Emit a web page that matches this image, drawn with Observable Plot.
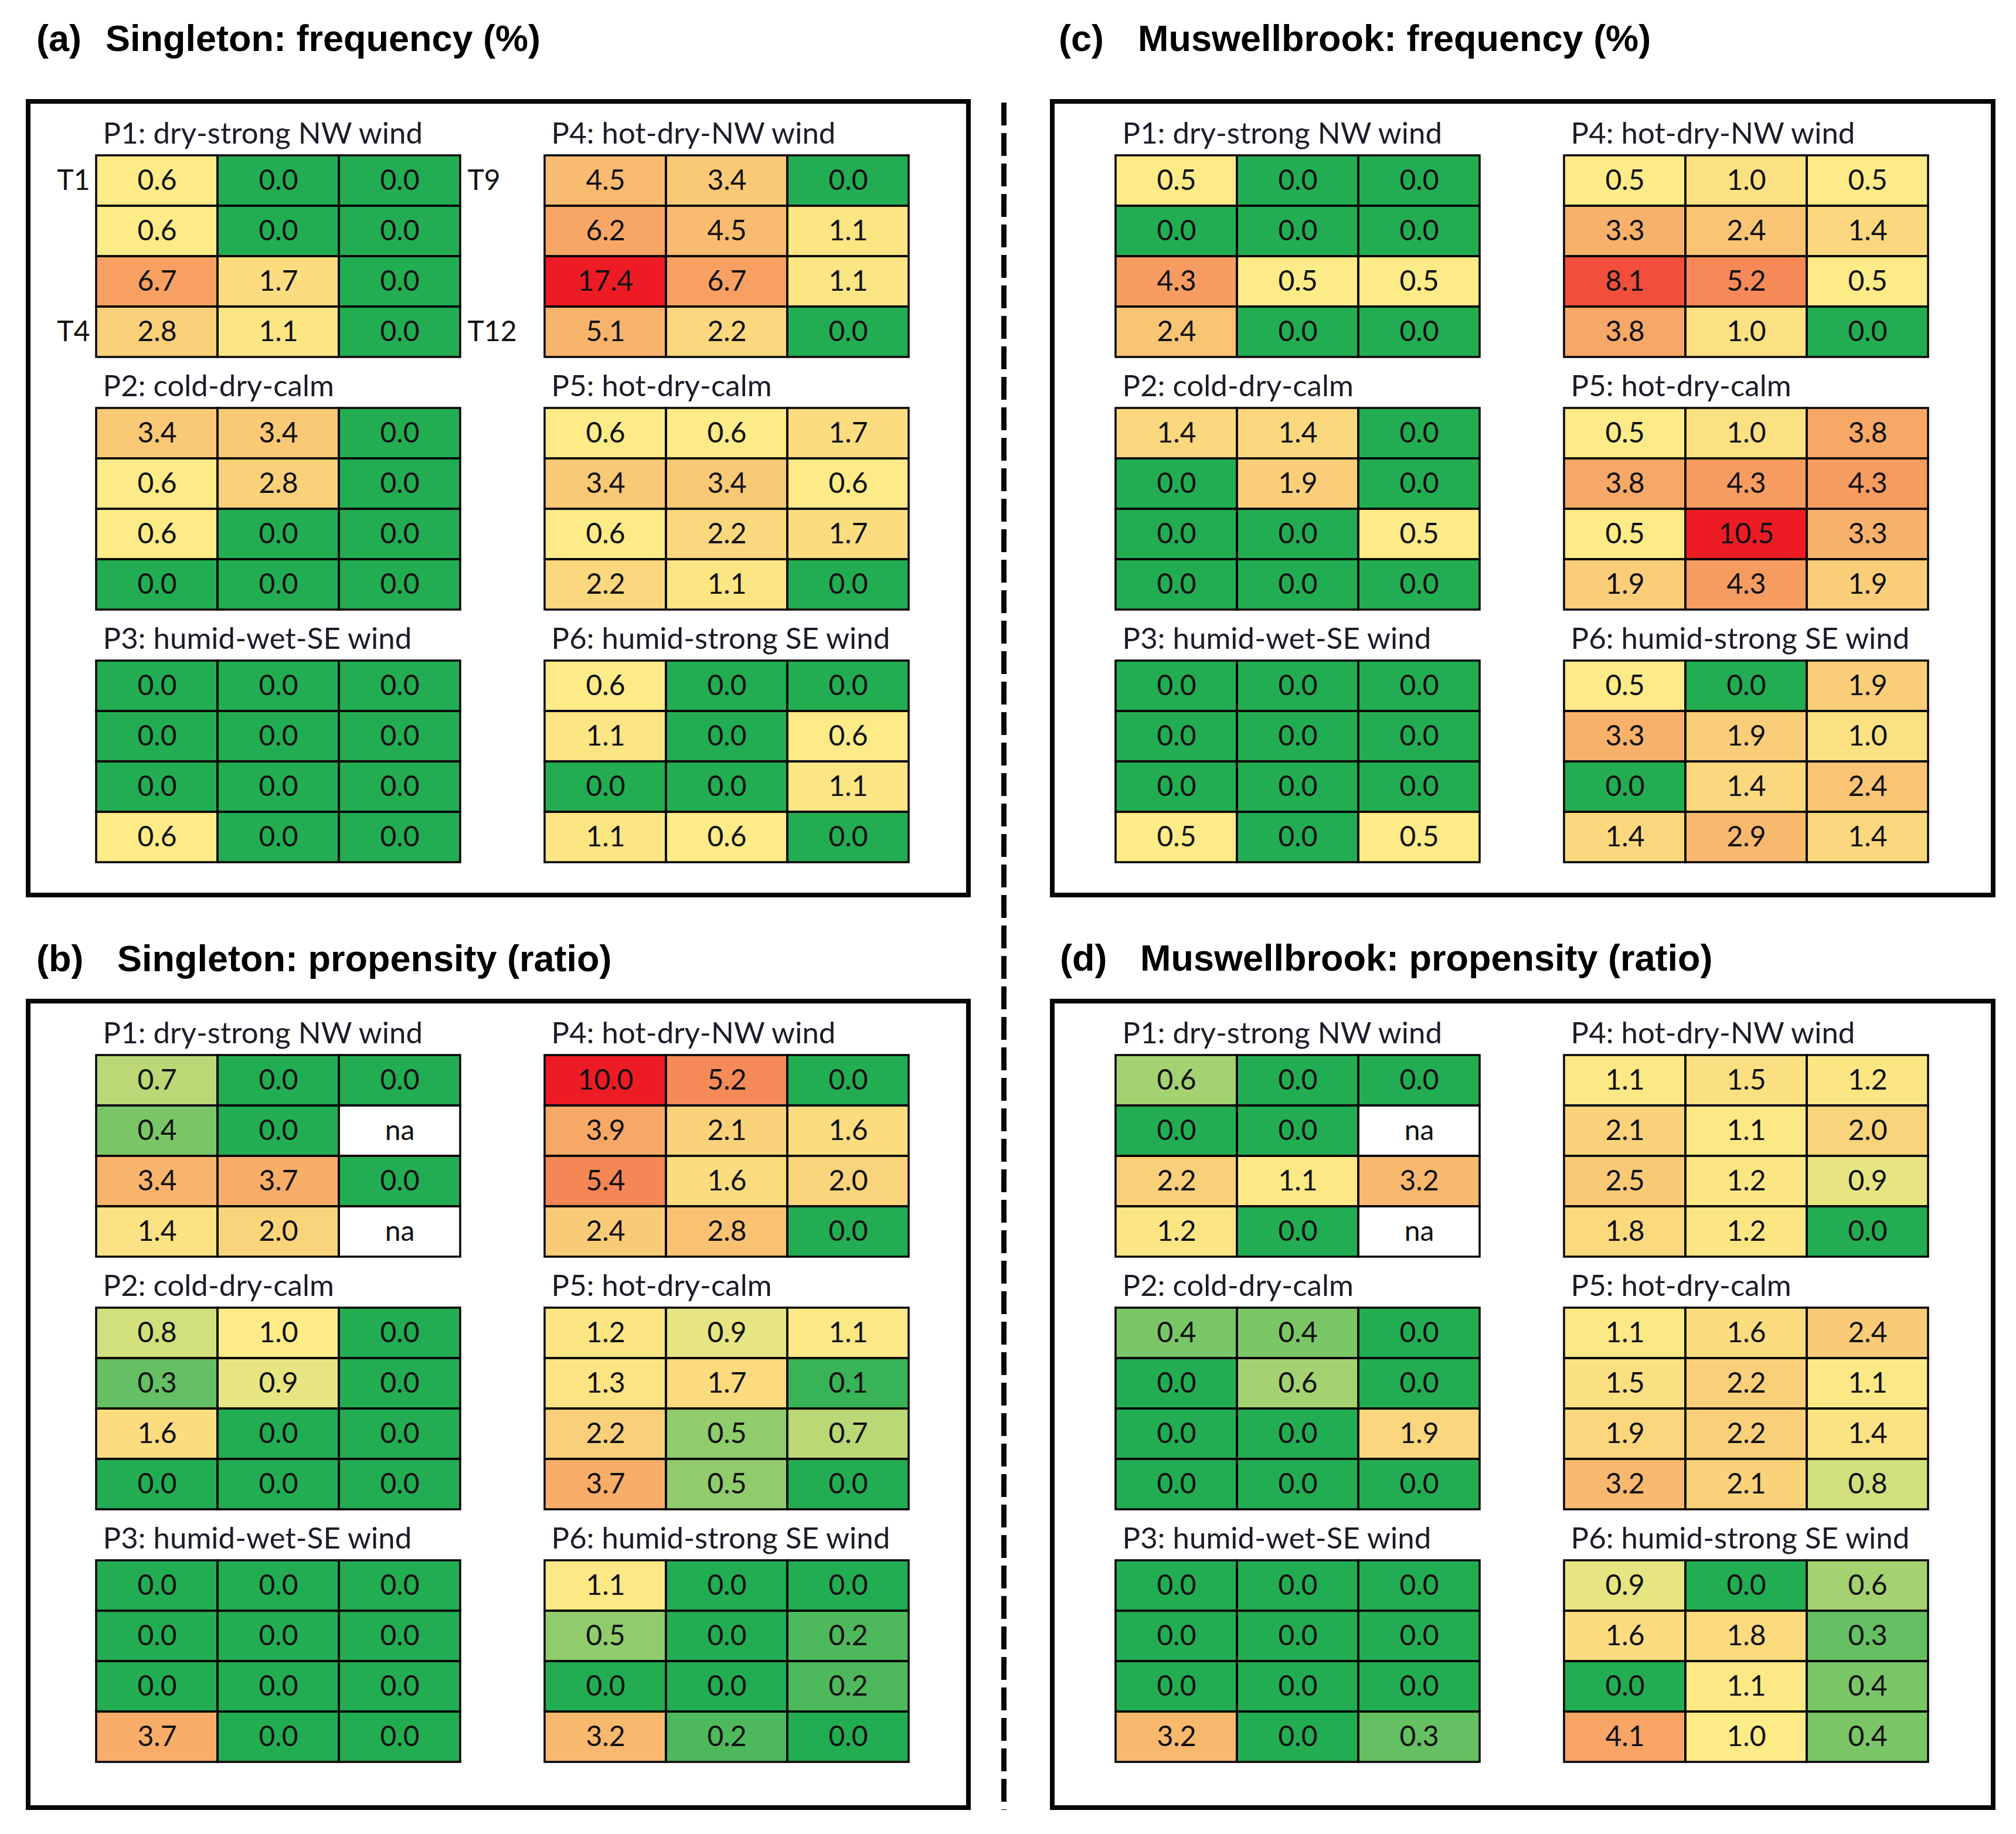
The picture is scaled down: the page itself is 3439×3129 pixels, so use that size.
<!DOCTYPE html>
<html><head><meta charset="utf-8">
<script src="https://cdn.jsdelivr.net/npm/d3@7"></script>
<script src="https://cdn.jsdelivr.net/npm/@observablehq/plot@0.6"></script>
<style>
html,body{margin:0;padding:0;background:#fff;}
#page{position:relative;width:3439px;height:3129px;overflow:hidden;background:#fff;}
.box{position:absolute;border:8px solid #060606;box-sizing:border-box;pointer-events:none;z-index:2;}
.panel{position:absolute;z-index:1;}
.title{position:absolute;font-family:"Liberation Sans",Arial,sans-serif;font-weight:bold;font-size:63px;line-height:64px;white-space:nowrap;color:#000;z-index:3;}
#dash{position:absolute;left:1708px;top:175px;width:9px;height:2913px;background:repeating-linear-gradient(to bottom,#060606 0px,#060606 39px,transparent 39px,transparent 52px);}
</style></head><body><div id="page"></div><script>
// ---- categories / labels ----
const patternNames = ["P1: dry-strong NW wind", "P2: cold-dry-calm", "P3: humid-wet-SE wind",
                      "P4: hot-dry-NW wind", "P5: hot-dry-calm", "P6: humid-strong SE wind"];
const timeLabels = ["T1","T2","T3","T4","T5","T6","T7","T8","T9","T10","T11","T12"];
const panelLabels = ["(a)", "(b)", "(c)", "(d)"];
const panelNames = ["Singleton: frequency (%)", "Singleton: propensity (ratio)",
                    "Muswellbrook: frequency (%)", "Muswellbrook: propensity (ratio)"];

// ---- values: each pattern = 4 rows x 3 columns, read row by row; null = na ----
const singletonFrequency = [
  [0.6,0.0,0.0, 0.6,0.0,0.0, 6.7,1.7,0.0, 2.8,1.1,0.0],
  [3.4,3.4,0.0, 0.6,2.8,0.0, 0.6,0.0,0.0, 0.0,0.0,0.0],
  [0.0,0.0,0.0, 0.0,0.0,0.0, 0.0,0.0,0.0, 0.6,0.0,0.0],
  [4.5,3.4,0.0, 6.2,4.5,1.1, 17.4,6.7,1.1, 5.1,2.2,0.0],
  [0.6,0.6,1.7, 3.4,3.4,0.6, 0.6,2.2,1.7, 2.2,1.1,0.0],
  [0.6,0.0,0.0, 1.1,0.0,0.6, 0.0,0.0,1.1, 1.1,0.6,0.0]
];
const singletonPropensity = [
  [0.7,0.0,0.0, 0.4,0.0,null, 3.4,3.7,0.0, 1.4,2.0,null],
  [0.8,1.0,0.0, 0.3,0.9,0.0, 1.6,0.0,0.0, 0.0,0.0,0.0],
  [0.0,0.0,0.0, 0.0,0.0,0.0, 0.0,0.0,0.0, 3.7,0.0,0.0],
  [10.0,5.2,0.0, 3.9,2.1,1.6, 5.4,1.6,2.0, 2.4,2.8,0.0],
  [1.2,0.9,1.1, 1.3,1.7,0.1, 2.2,0.5,0.7, 3.7,0.5,0.0],
  [1.1,0.0,0.0, 0.5,0.0,0.2, 0.0,0.0,0.2, 3.2,0.2,0.0]
];
const muswellbrookFrequency = [
  [0.5,0.0,0.0, 0.0,0.0,0.0, 4.3,0.5,0.5, 2.4,0.0,0.0],
  [1.4,1.4,0.0, 0.0,1.9,0.0, 0.0,0.0,0.5, 0.0,0.0,0.0],
  [0.0,0.0,0.0, 0.0,0.0,0.0, 0.0,0.0,0.0, 0.5,0.0,0.5],
  [0.5,1.0,0.5, 3.3,2.4,1.4, 8.1,5.2,0.5, 3.8,1.0,0.0],
  [0.5,1.0,3.8, 3.8,4.3,4.3, 0.5,10.5,3.3, 1.9,4.3,1.9],
  [0.5,0.0,1.9, 3.3,1.9,1.0, 0.0,1.4,2.4, 1.4,2.9,1.4]
];
const muswellbrookPropensity = [
  [0.6,0.0,0.0, 0.0,0.0,null, 2.2,1.1,3.2, 1.2,0.0,null],
  [0.4,0.4,0.0, 0.0,0.6,0.0, 0.0,0.0,1.9, 0.0,0.0,0.0],
  [0.0,0.0,0.0, 0.0,0.0,0.0, 0.0,0.0,0.0, 3.2,0.0,0.3],
  [1.1,1.5,1.2, 2.1,1.1,2.0, 2.5,1.2,0.9, 1.8,1.2,0.0],
  [1.1,1.6,2.4, 1.5,2.2,1.1, 1.9,2.2,1.4, 3.2,2.1,0.8],
  [0.9,0.0,0.6, 1.6,1.8,0.3, 0.0,1.1,0.4, 4.1,1.0,0.4]
];

const GREEN = "#23AD52", YELLOW = "#FCEB86", RED = "#ED1C24";

function toRows(values) {
  const rows = [];
  values.forEach((cells, p) => cells.forEach((v, i) => rows.push({
    p, fx: p < 3 ? 0 : 1, fy: p % 3, col: i % 3, row: Math.floor(i / 3), v
  })));
  return rows;
}

function freqDomain(values) {
  const flat = values.flat().filter(v => v != null);
  return [0, d3.min(flat.filter(v => v > 0)), d3.max(flat)];
}
const propMax = d3.max([...singletonPropensity.flat(), ...muswellbrookPropensity.flat()].filter(v => v != null));
const propDomain = [0, 1, propMax];

function panel(values, colorDomain, box, showT) {
  const rows = toRows(values);
  const fmt = d => d.v == null ? "na" : d.v.toFixed(1);
  const marks = [
    Plot.cell(rows, {x: "col", y: "row", fill: "white"}),
    Plot.cell(rows, {filter: d => d.v != null, x: "col", y: "row", fill: "v"}),
    Plot.cell(rows, {x: "col", y: "row", fill: "none", stroke: "#050505", strokeWidth: 3.5}),
    Plot.text(rows, {x: "col", y: "row", text: fmt, fontSize: 48, fill: "#111", ariaLabel: "values"}),
    Plot.text(rows, {filter: d => d.row === 0 && d.col === 0, text: d => patternNames[d.p],
      frameAnchor: "top-left", textAnchor: "start", lineAnchor: "bottom", dx: 12, dy: -20,
      fontSize: 51, fill: "#1c1c28", ariaLabel: "patterns"})
  ];
  if (showT) {
    marks.push(Plot.text(rows, {filter: d => d.p === 0 && d.col === 0 && (d.row === 0 || d.row === 3),
      y: "row", text: d => timeLabels[d.col * 4 + d.row], frameAnchor: "left", textAnchor: "end",
      dx: -10, fontSize: 48, fill: "#111", ariaLabel: "tlabels"}));
    marks.push(Plot.text(rows, {filter: d => d.p === 0 && d.col === 2 && (d.row === 0 || d.row === 3),
      y: "row", text: d => timeLabels[d.col * 4 + d.row], frameAnchor: "right", textAnchor: "start",
      dx: 12, fontSize: 48, fill: "#111", ariaLabel: "tlabels"}));
  }
  const svg = Plot.plot({
    width: box.width, height: box.height,
    marginLeft: box.mL, marginRight: box.mR, marginTop: box.mT, marginBottom: box.mB,
    style: {fontFamily: "Lato, 'Open Sans', sans-serif", background: "transparent", overflow: "visible"},
    facet: {data: rows, x: "fx", y: "fy"},
    fx: {domain: [0, 1], paddingInner: 0.187, paddingOuter: 0, axis: null, label: null},
    fy: {domain: [0, 1, 2], paddingInner: 0.199, paddingOuter: 0, axis: null, label: null},
    x: {domain: [0, 1, 2], padding: 0, axis: null},
    y: {domain: [0, 1, 2, 3], padding: 0, axis: null},
    color: {type: "linear", domain: colorDomain, range: [GREEN, YELLOW, RED], interpolate: "rgb", clamp: true},
    marks
  });
  d3.select(svg).selectAll('g[aria-label="values"] text').style("letter-spacing", "4px");
  d3.select(svg).selectAll('g[aria-label="tlabels"] text').style("letter-spacing", "3px");
  d3.select(svg).selectAll('g[aria-label="patterns"] text').style("letter-spacing", "3px");
  svg.classList.add("panel");
  svg.style.left = box.left + "px";
  svg.style.top = box.top + "px";
  return svg;
}

const page = document.getElementById("page");
const boxes = [
  {left: 44, top: 169, width: 1612, height: 1362, mL: 119, mR: 106, mT: 94, mB: 58},
  {left: 44, top: 1704, width: 1612, height: 1384, mL: 119, mR: 106, mT: 94, mB: 80},
  {left: 1791, top: 169, width: 1613, height: 1362, mL: 110, mR: 115, mT: 94, mB: 58},
  {left: 1791, top: 1704, width: 1613, height: 1384, mL: 110, mR: 115, mT: 94, mB: 80}
];
const datasets = [singletonFrequency, singletonPropensity, muswellbrookFrequency, muswellbrookPropensity];
const domains = [freqDomain(singletonFrequency), propDomain, freqDomain(muswellbrookFrequency), propDomain];

datasets.forEach((vals, k) => {
  const b = boxes[k];
  page.appendChild(panel(vals, domains[k], b, k === 0));
  const div = document.createElement("div");
  div.className = "box";
  Object.assign(div.style, {left: b.left + "px", top: b.top + "px", width: b.width + "px", height: b.height + "px"});
  page.appendChild(div);
});

// titles
const titlePos = [
  {lx: 62, nx: 180, base: 87},
  {lx: 62, nx: 200, base: 1657},
  {lx: 1806, nx: 1941, base: 87},
  {lx: 1808, nx: 1945, base: 1656}
];
titlePos.forEach((t, k) => {
  [[panelLabels[k], t.lx], [panelNames[k], t.nx]].forEach(([txt, x]) => {
    const d = document.createElement("div");
    d.className = "title";
    d.textContent = txt;
    d.style.left = x + "px";
    d.style.top = (t.base - 54) + "px";
    page.appendChild(d);
  });
});

const dash = document.createElement("div");
dash.id = "dash";
page.appendChild(dash);
</script></body></html>
